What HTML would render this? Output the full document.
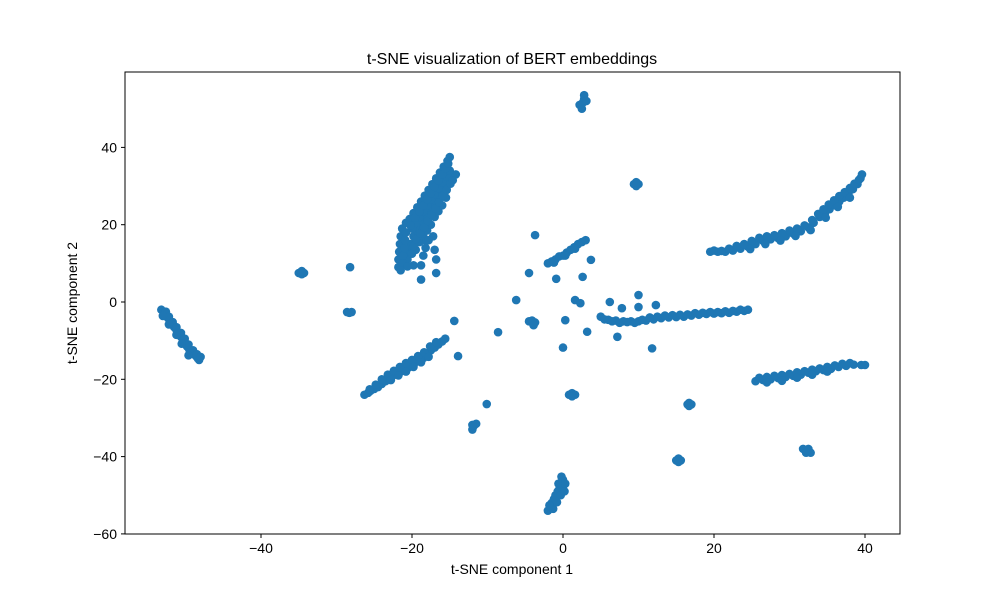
<!DOCTYPE html>
<html><head><meta charset="utf-8"><style>
body{margin:0;background:#fff;}
svg{display:block;font-family:"Liberation Sans","DejaVu Sans",sans-serif;}
</style></head><body>
<svg id="chart" width="1000" height="600">
<rect width="1000" height="600" fill="#fff"/>
<g id="points"></g>
<rect x="125" y="72" width="775" height="462" fill="none" stroke="#000" stroke-width="1"/>
<g id="axes"></g>
<text x="512" y="64" text-anchor="middle" font-size="16">t-SNE visualization of BERT embeddings</text>
<text x="512" y="574" text-anchor="middle" font-size="14">t-SNE component 1</text>
<text transform="translate(77,303) rotate(-90)" text-anchor="middle" font-size="14">t-SNE component 2</text>
</svg>
<script>
const xTicks=[-40,-20,0,20,40];
const yTicks=[-60,-40,-20,0,20,40];
const c1=[[-53.2,-2],[-52.9,-2.8],[-52.6,-3.5],[-52.3,-4.2],[-52,-5],[-51.7,-5.8],[-51.5,-6.5],[-51.2,-7.2],[-51,-8],[-50.6,-9],[-50.3,-10],[-50,-10.8],[-49.8,-11.5],[-49.5,-12.3],[-49.2,-13],[-48.9,-13.5],[-48.6,-14],[-48.2,-15],[-48.4,-14.5],
[-52.6,-2.5],[-52.2,-3.8],[-51.7,-5.2],[-51.2,-6.5],[-50.6,-8],[-50.1,-9.5],[-49.6,-11],[-49,-12.5],[-48.5,-13.5],[-48,-14.2],[-53,-3.6],[-52.2,-5.8],[-51.2,-8.5],[-50.5,-10.8],[-49.6,-13.8]];
const c2=[[-35,7.5],[-34.6,7.2],[-34.3,7.5],[-34.6,8],[-28.2,9],[-28.6,-2.6],[-28.3,-2.8],[-28,-2.6]];
const c5=[[-21.8,9],[-21.8,11],[-21.7,13],[-21.6,15],[-21.5,17],[-21.3,19],[-20.8,20.5],[-20.3,21.5],[-19.8,23],[-19.3,24.5],[-18.8,26],[-18.3,27.5],[-17.8,29],[-17.3,30.5],[-16.8,32],[-16.3,33.5],[-15.8,35],[-15.3,36.5],[-15,37.5],[-20.6,11],[-20.4,13],[-20.2,15],[-19.8,17],[-19.3,18.5],[-18.8,20],[-18.3,21.5],[-17.8,23],[-17.3,24.5],[-16.8,26],[-16.3,27.5],[-15.8,29],[-15.3,30.5],[-14.8,32],[-14.2,33],[-19.5,13.5],[-19,15.5],[-18.5,17],[-18,18.5],[-17.5,20],[-17,22],[-16.5,23.5],[-16,25],[-15.5,27],[-20,19],[-19.5,20.5],[-19,22],[-18.5,23.5],[-18,25],[-17.5,26.5],[-17,28],[-16.5,29.5],[-16,31],[-15.5,32.5],[-15,34],[-17,13.5],[-16.8,11],[-16.8,7.5],[-18.8,5.8],[-18.8,9.5],[-18.5,12],
[-21.2,10],[-21.2,12],[-21,14],[-20.9,16],[-20.8,18],[-20.2,19.8],[-19.6,21.8],[-19,23.4],[-18.5,25],[-18,26.6],[-17.5,28.2],[-17,29.8],[-16.5,31.4],[-16,33],[-15.6,34.5],[-15.2,35.8],[-20,12.5],[-19.8,14.5],[-19.5,16.3],[-18.9,17.8],[-18.4,19.3],[-17.9,21],[-17.4,22.6],[-16.9,24.2],[-16.4,25.8],[-15.9,27.5],[-15.4,29],[-14.9,30.6],[-14.6,31.5],[-18.1,15.8],[-17.2,17],[-19.8,9.5],[-20.6,9.2],[-21.5,8.2],[-18.2,14],[-17.8,16]];
const c6=[[-26.3,-24],[-25.8,-23.5],[-25.5,-23],[-25,-22.5],[-24.5,-22],[-24,-21.2],[-23.5,-20.5],[-23,-19.8],[-22.5,-19],[-22,-18.5],[-21.5,-18],[-21,-17.5],[-20.5,-17],[-20,-16.2],[-19.5,-15.5],[-19,-15],[-18.5,-14.5],[-18,-13.5],[-17.5,-12.5],[-17,-11.8],[-16.5,-11],[-16,-10.2],[-15.6,-9.5],
[-25.6,-22.6],[-24.8,-21.4],[-24,-20],[-23.2,-18.8],[-22.4,-17.8],[-21.6,-16.8],[-20.8,-15.8],[-20,-15],[-19.2,-14],[-18.4,-13],[-17.6,-11.5],[-16.8,-10.4],[-22.8,-20.2],[-21.8,-19],[-20.8,-18],[-19.8,-16.8],[-18.8,-15.6],[-17.8,-14.2],
[-14.4,-4.9],[-13.9,-14],[-10.1,-26.4],[-12,-33],[-11.8,-32],[-11.5,-31.5],[-12,-31.8],[-8.6,-7.8]];
const c7=[[2.5,50],[2.6,51.5],[2.8,52.5],[2.8,53.5],[2.2,51],[3.1,52],[9.4,30.5],[10,30.5],[9.7,30],[9.7,31],[-3.7,17.3],[-2,10],[-1.5,10.5],[-1,11],[-0.5,11.8],[0,12],[0.5,12.8],[1,13.5],[1.5,14.2],[2,15],[2.5,15.5],[3,16],[-1.2,10.2],[0.3,12],[1.6,13.8],[2.6,6.5],[3.7,10.9],[-4.5,7.5],[-6.2,0.5],[-0.9,6],[-4.5,-5],[-3.7,-5.3],[-4.1,-4.8],[-3.9,-6],[0,-11.8],[0.3,-4.7],[1.6,0.5],[2.3,-0.3],[3.2,-7.7],[0.8,-24],[1.2,-23.6],[1.6,-24],[1.2,-24.4]];
const c11=[[-2,-54],[-1.7,-53],[-1.5,-52],[-1.2,-51],[-1,-50],[-0.7,-49],[-0.5,-48.5],[0,-46],[0,-47.5],[0,-48.5],[-0.2,-45.2],[-1.3,-53.5],[-0.8,-51.8],[-0.3,-50],[0.2,-49],[-0.6,-47],[-1.8,-52.6],[0.3,-47]];
const c12=[[5,-3.8],[6,-4.6],[7,-4.8],[8,-5],[9,-5],[10,-5],[11,-4.8],[12,-4.5],[13,-4.2],[14,-4],[15,-3.9],[16,-3.8],[17,-3.5],[18,-3.3],[19,-3.1],[20,-3],[21,-2.9],[22,-2.8],[23,-2.5],[24,-2.3],[24.5,-2],
[5.5,-4.5],[6.5,-5],[7.5,-5.4],[8.5,-5.2],[9.5,-5.4],[10.5,-4.6],[11.5,-4],[12.5,-3.8],[13.5,-3.5],[14.5,-3.4],[15.5,-3.3],[16.5,-3.2],[17.5,-2.9],[18.5,-2.8],[19.5,-2.6],[20.5,-2.6],[21.5,-2.4],[22.5,-2.3],[23.5,-2],
[6.2,0],[7.8,-1.6],[7.2,-9],[10,1.8],[10,-1.3],[11.8,-12],[12.3,-0.8]];
const c13=[[19.5,13],[20.5,13],[21.5,13],[22.5,13.3],[23.5,13.8],[24.5,14.3],[25.5,15],[26.5,15.8],[27.5,16.2],[28.5,16.5],[29.5,17],[30.5,17.7],[31.5,18.3],[32.5,19.3],[33.2,20.5],[34,22],[34.7,23],[35.3,24],[36,25],[36.6,26],[37.2,27],[37.8,28],[38.4,29.2],[39,30.5],[39.4,32],[39.6,33],
[20,13.3],[21,13.2],[22,13.8],[23,14.5],[24,15],[25,15.8],[26,16.6],[27,17],[28,17.3],[29,17.8],[30,18.5],[31,19],[32,19.8],[33,21.2],[33.8,22.8],[34.5,24],[35.2,25.2],[35.9,26.3],[36.6,27.4],[37.3,28.4],[38,29.5],[38.6,30.6],[39.2,31.6],
[24.8,13.7],[26.8,15],[28.8,15.9],[30.8,17.1],[32.8,18.6],[34.8,21.8],[36.4,24.6],[38,27]];
const c14=[[25.5,-20.5],[26.5,-20.2],[27.5,-20],[28.5,-19.7],[29.5,-19.4],[30.5,-19.1],[31.5,-18.8],[32.5,-18.3],[33.5,-17.9],[34.5,-17.6],[35.5,-17.3],[36.5,-16.8],[37.5,-16.5],[38.5,-16.2],[39.5,-16.3],[40,-16.3],
[26,-19.6],[27,-19.4],[28,-19.1],[29,-18.9],[30,-18.6],[31,-18.2],[32,-17.9],[33,-17.5],[34,-17.2],[35,-16.8],[36,-16.4],[37,-16],[38,-15.8],[27,-20.8],[29,-20.4],[31,-19.6],[33,-18.8],[35,-18]];
const c15=[[16.5,-26.5],[17,-26.5],[16.7,-26.9],[16.7,-26.1],[15,-41],[15.6,-41],[15.3,-40.5],[15.3,-41.4],[31.8,-38],[32.3,-38.5],[32.8,-39],[32.5,-38],[32.2,-39]];
const X=v=>563+(v)*7.55;
const Y=v=>302-(v)*3.865;
const ns="http://www.w3.org/2000/svg";
const pg=document.getElementById('points');
[c1,c2,c5,c6,c7,c11,c12,c13,c14,c15].forEach(cl=>cl.forEach(p=>{
 const c=document.createElementNS(ns,'circle');
 c.setAttribute('cx',X(p[0]));c.setAttribute('cy',Y(p[1]));c.setAttribute('r',4.3);c.setAttribute('fill','#1f77b4');
 
 
 pg.appendChild(c);
}));
const ax=document.getElementById('axes');
xTicks.forEach(t=>{
 const l=document.createElementNS(ns,'line');
 l.setAttribute('x1',X(t));l.setAttribute('x2',X(t));l.setAttribute('y1',534);l.setAttribute('y2',538);l.setAttribute('stroke','#000');
 
 
 ax.appendChild(l);
 const tx=document.createElementNS(ns,'text');
 tx.setAttribute('x',X(t));tx.setAttribute('y',553);tx.setAttribute('text-anchor','middle');tx.setAttribute('font-size','14');
 tx.textContent=t<0?'\u2212'+(-t):t;
 
 
 ax.appendChild(tx);
});
yTicks.forEach(t=>{
 const l=document.createElementNS(ns,'line');
 l.setAttribute('x1',121);l.setAttribute('x2',125);l.setAttribute('y1',Y(t));l.setAttribute('y2',Y(t));l.setAttribute('stroke','#000');
 
 
 ax.appendChild(l);
 const tx=document.createElementNS(ns,'text');
 tx.setAttribute('x',117);tx.setAttribute('y',Y(t)+5);tx.setAttribute('text-anchor','end');tx.setAttribute('font-size','14');
 tx.textContent=t<0?'\u2212'+(-t):t;
 
 
 ax.appendChild(tx);
});
</script>
</body></html>
